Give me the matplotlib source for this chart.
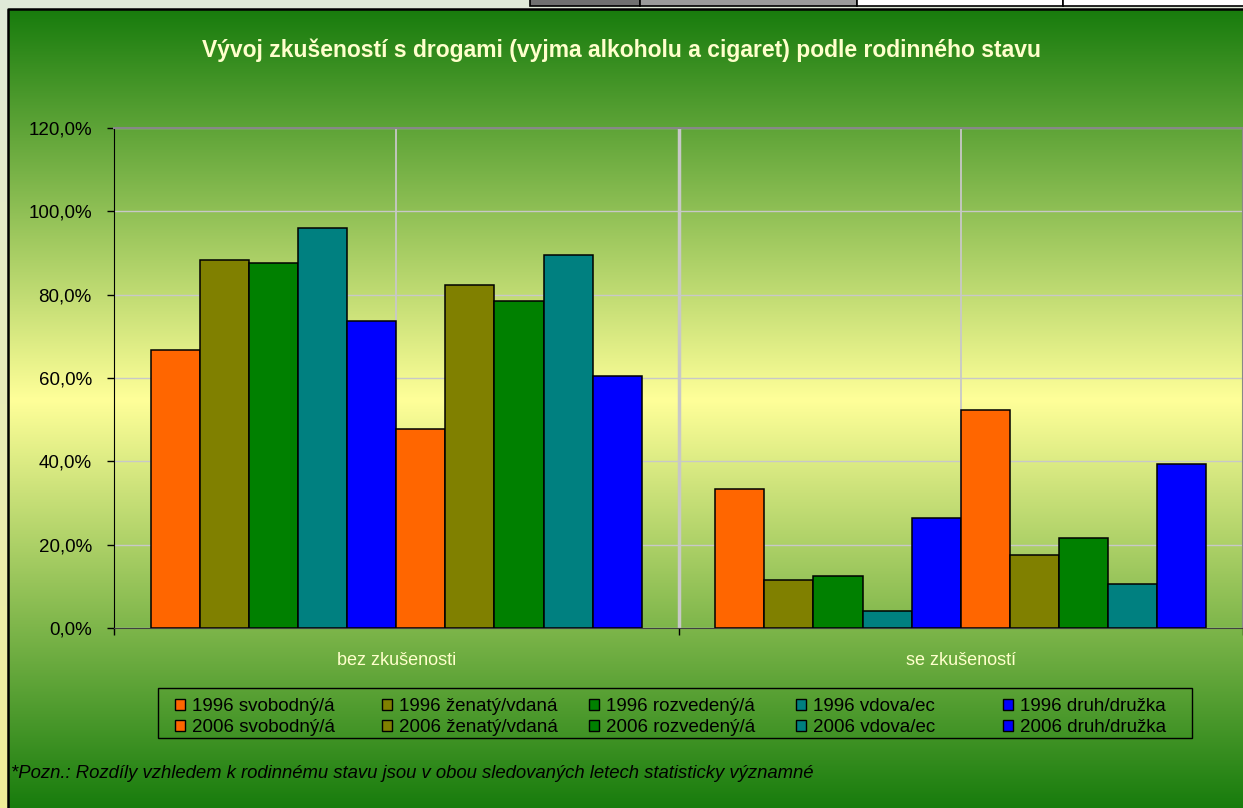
"""
Drug experience by marital status, 1996 vs 2006 (Excel-style clustered bars).
"""
import matplotlib
matplotlib.use("Agg")
import numpy as np
import matplotlib.pyplot as plt
from matplotlib.patches import Rectangle
from matplotlib.colors import to_rgb

FONT = ["Liberation Sans", "DejaVu Sans"]
plt.rcParams["font.family"] = FONT

categories = ["bez zkušenosti", "se zkušeností"]
series = ["1996 svobodný/á", "1996 ženatý/vdaná", "1996 rozvedený/á", "1996 vdova/ec", "1996 druh/družka",
          "2006 svobodný/á", "2006 ženatý/vdaná", "2006 rozvedený/á", "2006 vdova/ec", "2006 druh/družka"]
# percent, one row per series: [bez zkušenosti, se zkušeností]
values = [
    [66.7, 33.3],
    [88.4, 11.6],
    [87.6, 12.4],
    [95.9, 4.1],
    [73.6, 26.4],
    [47.7, 52.3],
    [82.4, 17.6],
    [78.5, 21.5],
    [89.5, 10.5],
    [60.6, 39.4],
]
colors = ["#ff6600", "#808000", "#008000", "#008080", "#0000ff"] * 2

W, H = 1243, 808
fig = plt.figure(figsize=(W / 100, H / 100), dpi=100)

# background: spreadsheet strip + green/yellow gradient chart area (pixel coords)
bg = fig.add_axes([0, 0, 1, 1], zorder=-10)
bg.add_patch(Rectangle((0, 0), W, H, color="#e0ead8", zorder=-5))
strip = np.linspace(0, 1, 200)[:, None, None]
c_top, c_bot = np.array(to_rgb("#e0ead8")), np.array(to_rgb("#f0ee98"))
bg.imshow(c_top + (c_bot - c_top) * strip, extent=[0, 8, H, 0], aspect="auto", zorder=0)
for x0, x1, fc in [(530, 640, "#707070"), (640, 857, "#9a9a9a"), (857, 1063, "white"), (1063, W + 5, "white")]:
    bg.add_patch(Rectangle((x0, -5), x1 - x0, 11, facecolor=fc, edgecolor="black", lw=1.2, zorder=1))

dark, light = np.array(to_rgb("#187c0d")), np.array(to_rgb("#ffff99"))
yy = np.linspace(9, H, 400)
t = np.where(yy < 400, (yy - 9) / (400 - 9), (H - yy) / (H - 400))
grad = dark + (light - dark) * t[:, None, None]
bg.imshow(grad, extent=[8, W, H, 9], aspect="auto", zorder=0)
bg.plot([8, 8, W], [H, 9, 9], color="black", lw=1.8, zorder=2)
bg.set_xlim(0, W)
bg.set_ylim(H, 0)
bg.axis("off")

# main plot area
ax = fig.add_axes([114 / W, 1 - 628 / H, 1 - 114 / W, 500 / H])
ax.set_facecolor("none")

n = len(series)
bw = 0.087
x = np.arange(len(categories))
for i, (lab, vals) in enumerate(zip(series, values)):
    ax.bar(x + (i - (n - 1) / 2) * bw, vals, bw, color=colors[i], edgecolor="black",
           linewidth=1.1, label=lab, zorder=3)

ax.set_xlim(-0.5, 1.5)
ax.set_ylim(0, 120)
ax.set_yticks(np.arange(0, 121, 20))
ax.set_yticklabels([f"{v:.1f}%".replace(".", ",") for v in np.arange(0, 121, 20)], fontsize=13.5)
ax.yaxis.grid(True, color="#c8c8c8", lw=1)
for xv in x:
    ax.axvline(xv, color="#c8c8c8", lw=1.3, zorder=1)
ax.axvline(0.5, color="#c8c8c8", lw=2.5, zorder=1)
ax.set_xticks([-0.5, 0.5, 1.5])
ax.set_xticklabels([])
ax.tick_params(axis="both", direction="out", length=5, width=1, color="black")
ax.tick_params(axis="y", pad=11)
ax.spines["left"].set_color("black")
ax.spines["bottom"].set_color("#404040")
for s in ("top", "right"):
    ax.spines[s].set_color("#888888")
    ax.spines[s].set_linewidth(1.5)
for xv, cat in zip(x, categories):
    ax.text(xv, -7.8, cat, ha="center", va="center", fontsize=13, color="#ffffcc")

fig.text(0.5, 1 - 50 / H, "Vývoj zkušeností s drogami (vyjma alkoholu a cigaret) podle rodinného stavu",
         ha="center", va="center", fontsize=16.5, fontweight="bold", color="#ffffcc")

# legend drawn Excel-style: equal-width columns, 1996 row above 2006 row
lg = fig.add_axes([0, 0, 1, 1], zorder=5)
lg.set_xlim(0, W)
lg.set_ylim(H, 0)
lg.axis("off")
lg.add_patch(Rectangle((158, 688), 1192 - 158, 50, facecolor="none", edgecolor="black", lw=1.0))
for i, lab in enumerate(series):
    col, row = i % 5, i // 5
    x0 = 175 + 207 * col
    yb = 711 + 20.5 * row
    lg.add_patch(Rectangle((x0, yb - 12), 10, 11, facecolor=colors[i], edgecolor="black", lw=1.0))
    lg.text(x0 + 17, yb, lab, ha="left", va="baseline", fontsize=13.5, color="black")

fig.text(11 / W, 1 - 773 / H,
         "*Pozn.: Rozdíly vzhledem k rodinnému stavu jsou v obou sledovaných letech statisticky významné",
         ha="left", va="center", fontsize=13.3, style="italic", color="black")

fig.savefig("out.png", dpi=100)
plt.close(fig)
